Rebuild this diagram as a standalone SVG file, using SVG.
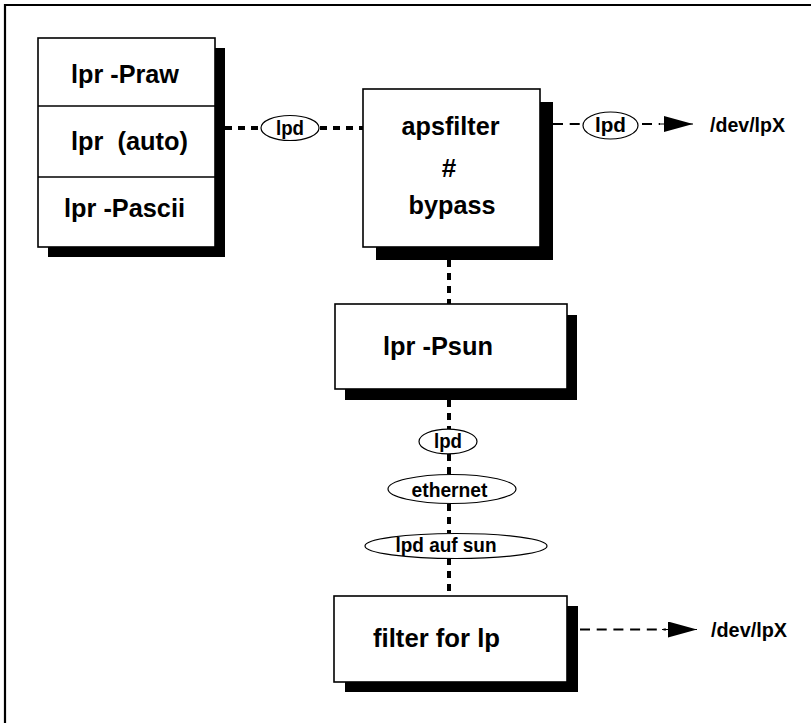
<svg xmlns="http://www.w3.org/2000/svg" width="811" height="723" viewBox="0 0 811 723">
<style>
  .box{fill:#fff;stroke:#000;stroke-width:1.6}
  .shadow{fill:#000;stroke:none}
  .big{font-family:"Liberation Sans",Arial,sans-serif;font-weight:bold;font-size:26px;fill:#000}
  .small{font-family:"Liberation Sans",Arial,sans-serif;font-weight:bold;font-size:20px;fill:#000}
  .lbl{fill:#fff;stroke:#000;stroke-width:1.2}
  .dot{stroke:#000;stroke-width:4;stroke-dasharray:7 6;fill:none}
  .dash{stroke:#000;stroke-width:2;stroke-dasharray:10 6.7;fill:none}
</style>
<defs>
  <marker id="arr" markerUnits="userSpaceOnUse" markerWidth="30" markerHeight="16" refX="29" refY="8" orient="auto">
    <polygon points="0,0 29,8 0,16" fill="#000"/>
  </marker>
</defs>
<rect x="0" y="0" width="811" height="723" fill="#fff"/>
<path d="M5,723 V5 H811" fill="none" stroke="#000" stroke-width="2.2"/>

<g id="connectors">
  <line class="dot" x1="225" y1="128" x2="261" y2="128"/>
  <line class="dot" x1="320" y1="128" x2="363" y2="128"/>
  <line class="dot" x1="449" y1="260" x2="449" y2="304"/>
  <line class="dot" x1="449" y1="400" x2="449" y2="429"/>
  <line class="dot" x1="449" y1="454" x2="449" y2="474"/>
  <line class="dot" x1="449" y1="504" x2="449" y2="533"/>
  <line class="dot" x1="449" y1="558" x2="449" y2="596"/>
  <line class="dash" x1="553" y1="124" x2="583" y2="124"/>
  <line class="dash" x1="642" y1="124" x2="660" y2="124" stroke-dasharray="8 8"/>
  <line x1="660" y1="124" x2="693" y2="124" stroke="#000" stroke-width="1" marker-end="url(#arr)"/>
  <line class="dash" x1="580" y1="629.5" x2="666" y2="629.5"/>
  <line x1="662" y1="629.5" x2="697" y2="629.5" stroke="#000" stroke-width="1" marker-end="url(#arr)"/>
</g>

<g id="lpr-stack">
  <rect class="shadow" x="48" y="48" width="177" height="209"/>
  <rect class="box" x="38" y="38" width="177" height="209"/>
  <line x1="38" y1="106" x2="215" y2="106" stroke="#000" stroke-width="1.6"/>
  <line x1="38" y1="177" x2="215" y2="177" stroke="#000" stroke-width="1.6"/>
  <text class="big" x="71" y="83" textLength="108" lengthAdjust="spacingAndGlyphs">lpr -Praw</text>
  <text class="big" x="71" y="150" textLength="117" lengthAdjust="spacingAndGlyphs" xml:space="preserve">lpr  (auto)</text>
  <text class="big" x="64" y="217" textLength="121" lengthAdjust="spacingAndGlyphs">lpr -Pascii</text>
</g>

<g id="lpd1">
  <ellipse class="lbl" cx="290" cy="128" rx="29" ry="12.5"/>
  <text class="small" x="290" y="135" text-anchor="middle" textLength="28" lengthAdjust="spacingAndGlyphs">lpd</text>
</g>

<g id="apsfilter">
  <rect class="shadow" x="376" y="102" width="177" height="158"/>
  <rect class="box" x="363" y="89" width="177" height="158"/>
  <text class="big" x="450.5" y="135" text-anchor="middle" textLength="98" lengthAdjust="spacingAndGlyphs">apsfilter</text>
  <text class="big" x="449" y="177" text-anchor="middle">#</text>
  <text class="big" x="452" y="214" text-anchor="middle" textLength="87" lengthAdjust="spacingAndGlyphs">bypass</text>
</g>

<g id="lpd2">
  <ellipse class="lbl" cx="610.5" cy="125.5" rx="27.5" ry="13.5"/>
  <text class="small" x="610.5" y="131.7" text-anchor="middle" textLength="31" lengthAdjust="spacingAndGlyphs">lpd</text>
</g>

<g id="devlpx1">
  <text class="small" x="710" y="131.7" textLength="75" lengthAdjust="spacingAndGlyphs">/dev/lpX</text>
</g>

<g id="lpr-psun">
  <rect class="shadow" x="345" y="315" width="232" height="85"/>
  <rect class="box" x="335" y="304" width="232" height="85"/>
  <text class="big" x="383" y="355" textLength="110" lengthAdjust="spacingAndGlyphs">lpr -Psun</text>
</g>

<g id="lpd3">
  <ellipse class="lbl" cx="448" cy="441.5" rx="29" ry="12.3"/>
  <text class="small" x="448" y="447.5" text-anchor="middle" textLength="28" lengthAdjust="spacingAndGlyphs">lpd</text>
</g>

<g id="ethernet">
  <ellipse class="lbl" cx="452" cy="489" rx="64" ry="14.5"/>
  <text class="small" x="449.5" y="496.7" text-anchor="middle" textLength="76" lengthAdjust="spacingAndGlyphs">ethernet</text>
</g>

<g id="lpd-auf-sun">
  <ellipse class="lbl" cx="456" cy="546" rx="91" ry="12.5"/>
  <text class="small" x="446" y="552" text-anchor="middle" textLength="101" lengthAdjust="spacingAndGlyphs">lpd auf sun</text>
</g>

<g id="filter-for-lp">
  <rect class="shadow" x="345" y="606" width="233" height="86"/>
  <rect class="box" x="334" y="596" width="233" height="86"/>
  <text class="big" x="373" y="646.5" textLength="127" lengthAdjust="spacingAndGlyphs">filter for lp</text>
</g>

<g id="devlpx2">
  <text class="small" x="711" y="636.5" textLength="76" lengthAdjust="spacingAndGlyphs">/dev/lpX</text>
</g>
</svg>
